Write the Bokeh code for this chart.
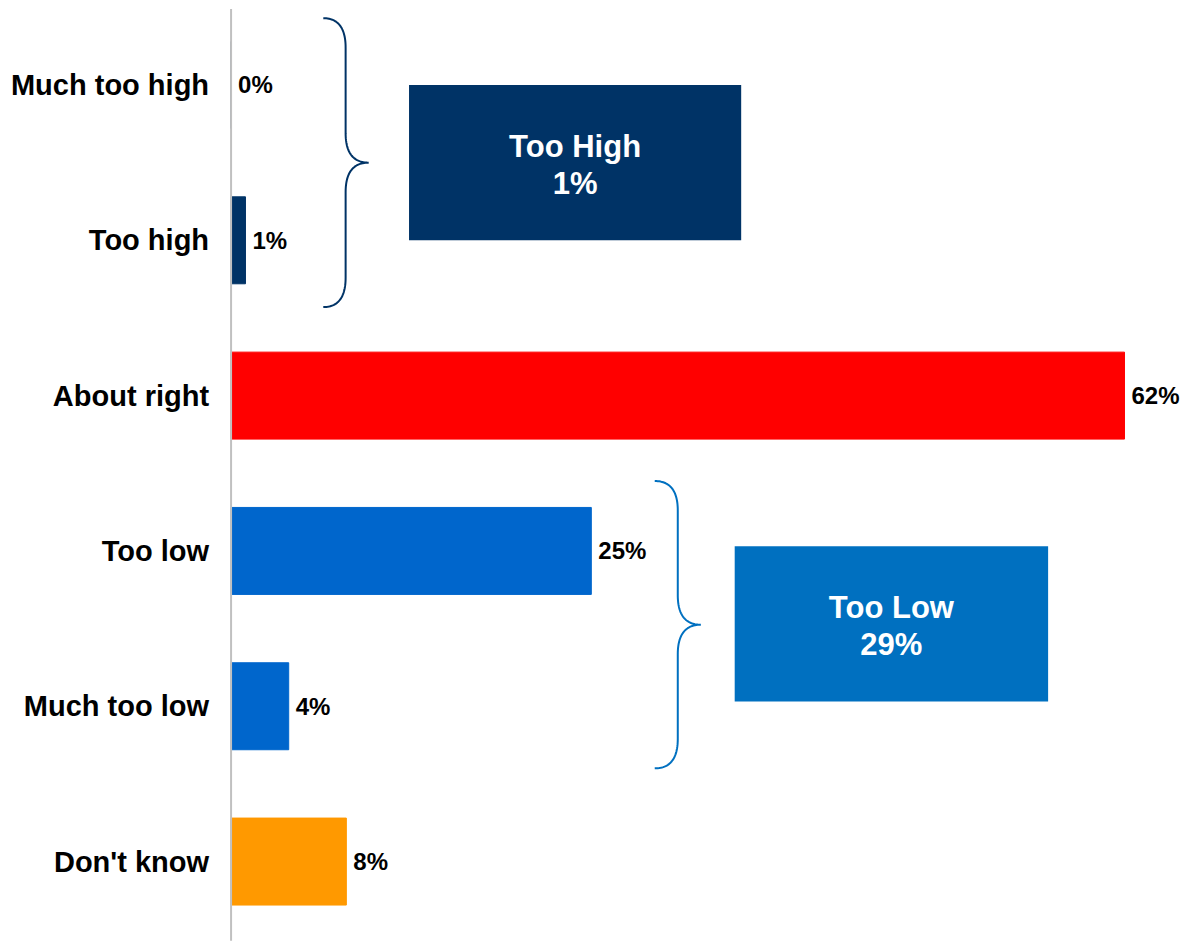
import numpy as np
from bokeh.plotting import figure
from bokeh.models import Range1d, ColumnDataSource
from bokeh.core.properties import value
from bokeh.embed import file_html
from bokeh.resources import INLINE

# Survey responses
categories = ["Much too high", "Too high", "About right", "Too low", "Much too low", "Don't know"]
shares = [0, 1, 62, 25, 4, 8]
bar_colors = ["#003366", "#003366", "#FF0000", "#0066CC", "#0066CC", "#FF9900"]

# Grouped totals shown in the call-out boxes
group_names = ["Too High", "Too Low"]
group_totals = [1, 29]
group_colors = ["#003366", "#0070C0"]

FONT = value("Liberation Sans")

idx = list(range(len(categories)))
src = ColumnDataSource(dict(
    y=idx, share=shares, color=bar_colors, cat=categories,
    label=[f"{v}%" for v in shares],
))

p = figure(width=1191, height=944,
           x_range=Range1d(-16.0, 66.65), y_range=Range1d(5.534, -0.544),
           toolbar_location=None, output_backend="svg", min_border=0)
p.axis.visible = False
p.grid.visible = False
p.outline_line_color = None
p.background_fill_color = "white"

p.hbar(y="y", left=0, right="share", height=0.56, color="color", source=src)

# vertical category axis line
p.segment(x0=[0], y0=[-0.49], x1=[0], y1=[5.51], line_color="#C0C0C0", line_width=2)

# category labels
p.text(x=0, y="y", text="cat", source=src, x_offset=-22,
       text_align="right", text_baseline="middle",
       text_font=FONT, text_font_style="bold", text_font_size="29px",
       text_color="black")

# value labels
p.text(x="share", y="y", text="label", source=src, x_offset=7,
       text_align="left", text_baseline="middle",
       text_font=FONT, text_font_style="bold", text_font_size="24px",
       text_color="black")


def brace(x0, x1, x2, ytop, ybot, rx, ry, n=30):
    """Right-pointing curly brace as a polyline."""
    ym = (ytop + ybot) / 2
    t = np.linspace(0, 1, n)

    def quad(pa, pc, pb):
        return ((1 - t) ** 2 * pa[0] + 2 * (1 - t) * t * pc[0] + t ** 2 * pb[0],
                (1 - t) ** 2 * pa[1] + 2 * (1 - t) * t * pc[1] + t ** 2 * pb[1])

    segs = [
        quad((x0, ytop), (x1, ytop), (x1, ytop + ry)),
        ([x1, x1], [ytop + ry, ym - ry]),
        quad((x1, ym - ry), (x1, ym), (x2, ym)),
        quad((x2, ym), (x1, ym), (x1, ym + ry)),
        ([x1, x1], [ym + ry, ybot - ry]),
        quad((x1, ybot - ry), (x1, ybot), (x0, ybot)),
    ]
    xs = np.concatenate([np.asarray(s[0]) for s in segs])
    ys = np.concatenate([np.asarray(s[1]) for s in segs])
    return xs, ys


# braces spanning each group of two categories
bx, by = brace(6.4, 7.95, 9.55, -0.43, 1.43, 1.6, 0.19)
p.line(bx, by, line_color=group_colors[0], line_width=2)
bx, by = brace(29.4, 31.0, 32.6, 2.55, 4.4, 1.6, 0.19)
p.line(bx, by, line_color=group_colors[1], line_width=2)

# call-out boxes
box_left = [12.35, 34.95]
box_right = [35.4, 56.7]
box_top = [0.0, 2.97]
box_bottom = [1.0, 3.97]
p.quad(left=box_left, right=box_right, top=box_top, bottom=box_bottom,
       color=group_colors, line_color=None)
p.text(x=[(a + b) / 2 for a, b in zip(box_left, box_right)],
       y=[(a + b) / 2 for a, b in zip(box_top, box_bottom)],
       text=[f"{n}\n{v}%" for n, v in zip(group_names, group_totals)],
       y_offset=2,
       text_align="center", text_baseline="middle", text_line_height=1.05,
       text_font=FONT, text_font_style="bold", text_font_size="31px",
       text_color="white")

open("out.html", "w").write(file_html(p, INLINE))
